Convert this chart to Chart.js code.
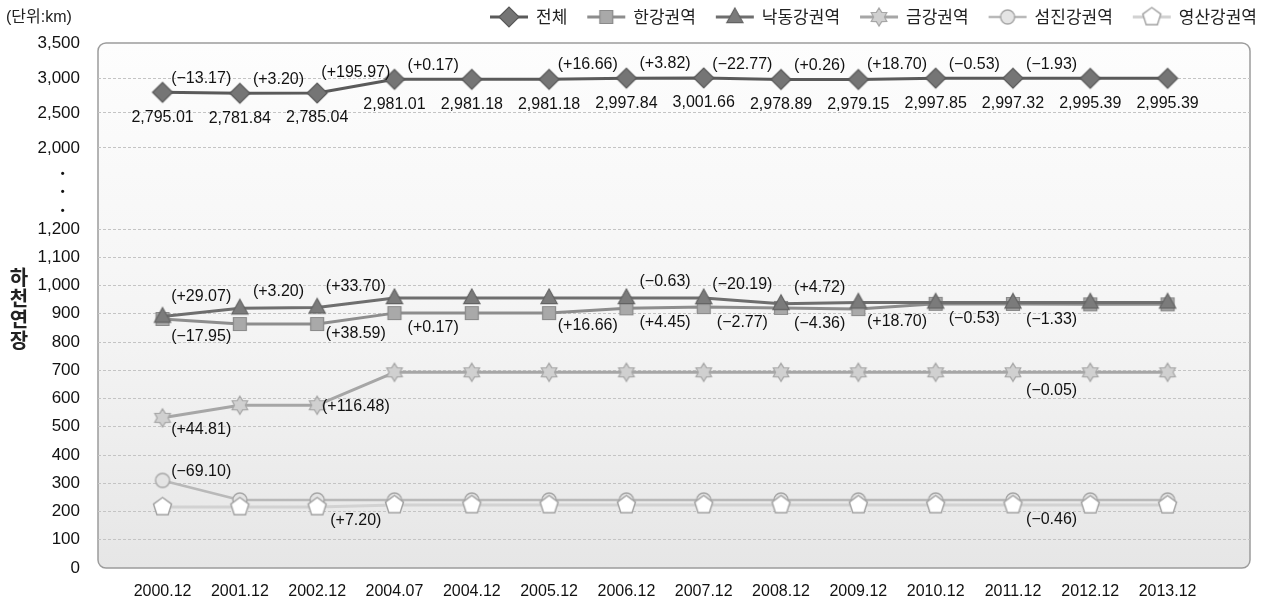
<!DOCTYPE html>
<html>
<head>
<meta charset="utf-8">
<script src="https://cdn.jsdelivr.net/npm/chart.js@4.4.1/dist/chart.umd.min.js"></script>
<style>
html,body{margin:0;padding:0;background:#fff}
#wrap{width:1262px;height:598px}
</style>
</head>
<body>
<div id="wrap"><canvas id="myChart" width="1262" height="598"></canvas></div>
<script>
var periods = ['2000.12','2001.12','2002.12','2004.07','2004.12','2005.12','2006.12','2007.12','2008.12','2009.12','2010.12','2011.12','2012.12','2013.12']

var total    = [2795.01,2781.84,2785.04,2981.01,2981.18,2981.18,2997.84,3001.66,2978.89,2979.15,2997.85,2997.32,2995.39,2995.39]
var hangang  = [881.6,863.65,863.65,902.24,902.41,902.41,919.07,923.52,920.75,916.39,935.09,934.56,933.23,933.23]
var nakdong  = [890.0,919.07,922.27,955.97,955.97,955.97,955.97,955.34,935.15,939.87,939.87,939.87,939.87,939.87]
var geumgang = [531.5,576.31,576.31,692.79,692.79,692.79,692.79,692.79,692.79,692.79,692.79,692.79,692.74,692.74]
var seomjin  = [310.0,240.9,240.9,240.9,240.9,240.9,240.9,240.9,240.9,240.9,240.9,240.9,240.9,240.9]
var yeongsan = [216.0,216.0,216.0,223.2,223.2,223.2,223.2,223.2,223.2,223.2,223.2,223.2,222.74,222.74]

// change labels, one per segment (from point i to i+1)
var totalChg    = ['(\u221213.17)','(+3.20)','(+195.97)','(+0.17)','','(+16.66)','(+3.82)','(\u221222.77)','(+0.26)','(+18.70)','(\u22120.53)','(\u22121.93)','']
var nakdongChg  = ['(+29.07)','(+3.20)','(+33.70)','','','','(\u22120.63)','(\u221220.19)','(+4.72)','','','','']
var hangangChg  = ['(\u221217.95)','','(+38.59)','(+0.17)','','(+16.66)','(+4.45)','(\u22122.77)','(\u22124.36)','(+18.70)','(\u22120.53)','(\u22121.33)','']
var geumgangChg = ['(+44.81)','','(+116.48)','','','','','','','','','(\u22120.05)','']
var seomjinChg  = ['(\u221269.10)','','','','','','','','','','','','']
var yeongsanChg = ['','','(+7.20)','','','','','','','','','(\u22120.46)','']

var yTickValues = [0,100,200,300,400,500,600,700,800,900,1000,1100,1200,null,null,null,2000,2500,3000,3500]
var yTickLabels = ['0','100','200','300','400','500','600','700','800','900','1,000','1,100','1,200','\u2022     ','\u2022     ','\u2022     ','2,000','2,500','3,000','3,500']

var seriesNames = ['전체','한강권역','낙동강권역','금강권역','섬진강권역','영산강권역']

// broken axis: 0..1200 in the lower part, 2000..3500 in the upper part
function brk(v){
    if (v <= 1200) return v*0.2825
    return 420 + (v-2000)*0.07
}
var yPos = []
var dotN = 0
yTickValues.forEach(function(v){
    if (v === null) { dotN++; yPos.push(brk(1200) + 18.5*dotN) }
    else yPos.push(brk(v))
})

function marker(shape, r, fill, stroke, lw){
    var s = Math.ceil(r*2+4), c = s/2
    var cv = document.createElement('canvas')
    cv.width = s; cv.height = s
    var g = cv.getContext('2d')
    g.beginPath()
    var i, a
    if (shape=='diamond'){
        g.moveTo(c-r,c); g.lineTo(c,c-r); g.lineTo(c+r,c); g.lineTo(c,c+r); g.closePath()
    } else if (shape=='square'){
        g.rect(c-r*0.72,c-r*0.72,r*1.44,r*1.44)
    } else if (shape=='triangle'){
        g.moveTo(c,c-r); g.lineTo(c+r*0.9,c+r*0.62); g.lineTo(c-r*0.9,c+r*0.62); g.closePath()
    } else if (shape=='star'){
        for (i=0;i<12;i++){
            a = -Math.PI/2 + i*Math.PI/6
            var rr = (i%2==0) ? r : r*0.6
            if (i==0) g.moveTo(c+Math.cos(a)*rr, c+Math.sin(a)*rr)
            else g.lineTo(c+Math.cos(a)*rr, c+Math.sin(a)*rr)
        }
        g.closePath()
    } else if (shape=='circle'){
        g.arc(c,c,r,0,Math.PI*2)
    } else if (shape=='pentagon'){
        for (i=0;i<5;i++){
            a = -Math.PI/2 + i*2*Math.PI/5
            if (i==0) g.moveTo(c+Math.cos(a)*r, c+Math.sin(a)*r)
            else g.lineTo(c+Math.cos(a)*r, c+Math.sin(a)*r)
        }
        g.closePath()
    }
    g.fillStyle = fill; g.fill()
    g.lineWidth = lw; g.strokeStyle = stroke; g.stroke()
    return cv
}

var mDiamond  = marker('diamond',10,'#757575','#585858',1.2)
var mSquare   = marker('square',9,'#a9a9a9','#8a8a8a',1.2)
var mTriangle = marker('triangle',9,'#7b7b7b','#626262',1.2)
var mStar     = marker('star',9,'#d0d0d0','#a6a6a6',1.2)
var mCircle   = marker('circle',7,'#e4e4e4','#a6a6a6',1.4)
var mPentagon = marker('pentagon',9.5,'#ffffff','#a0a0a0',1.4)

function series(label, values, img, color, width, order){
    return {
        label: label,
        data: values.map(function(v,i){ return {x:i, y:brk(v)} }),
        borderColor: color,
        borderWidth: width,
        pointStyle: img,
        pointRadius: 9,
        pointHoverRadius: 9,
        order: order,
        tension: 0,
        fill: false
    }
}

var datasets = [
    series(seriesNames[0], total, mDiamond, '#5a5a5a', 3, 0),
    series(seriesNames[1], hangang, mSquare, '#8d8d8d', 3, 2),
    series(seriesNames[2], nakdong, mTriangle, '#6e6e6e', 3, 1),
    series(seriesNames[3], geumgang, mStar, '#a6a6a6', 3, 3),
    series(seriesNames[4], seomjin, mCircle, '#b9b9b9', 2.5, 5),
    series(seriesNames[5], yeongsan, mPentagon, '#d2d2d2', 3, 4)
]

var regular = '"Liberation Sans", "Noto Sans CJK KR", sans-serif'

var boxPlugin = {
    id: 'box',
    beforeDraw: function(chart){
        var a = chart.chartArea, ctx = chart.ctx
        ctx.save()
        var grad = ctx.createLinearGradient(0,a.top,0,a.bottom)
        grad.addColorStop(0,'#fdfdfd')
        grad.addColorStop(0.55,'#f4f4f4')
        grad.addColorStop(1,'#e6e6e6')
        ctx.beginPath()
        ctx.roundRect(a.left,a.top,a.right-a.left,a.bottom-a.top,8)
        ctx.fillStyle = grad
        ctx.fill()
        ctx.lineWidth = 1.5
        ctx.strokeStyle = '#9c9c9c'
        ctx.stroke()
        ctx.restore()
    }
}

var labelPlugin = {
    id: 'labels',
    afterDatasetsDraw: function(chart){
        var ctx = chart.ctx
        ctx.save()
        ctx.font = '16px ' + regular
        ctx.fillStyle = '#111'
        ctx.textAlign = 'center'
        ctx.textBaseline = 'middle'
        var m0 = chart.getDatasetMeta(0)
        total.forEach(function(v,i){
            var p = m0.data[i]
            ctx.fillText(v.toLocaleString('en-US',{minimumFractionDigits:2, maximumFractionDigits:2}), p.x, p.y+25)
        })
        var sets = [
            {ds:0, txt:totalChg, dy:-14},
            {ds:2, txt:nakdongChg, dy:-16},
            {ds:1, txt:hangangChg, dy:15},
            {ds:3, txt:geumgangChg, dy:18},
            {ds:4, txt:seomjinChg, dy:-19},
            {ds:5, txt:yeongsanChg, dy:15}
        ]
        sets.forEach(function(s){
            var meta = chart.getDatasetMeta(s.ds)
            s.txt.forEach(function(t,i){
                if (!t) return
                var a = meta.data[i], b = meta.data[i+1]
                ctx.fillText(t, (a.x+b.x)/2, (a.y+b.y)/2 + s.dy)
            })
        })
        ctx.restore()
    }
}

var decorPlugin = {
    id: 'decor',
    afterDraw: function(chart){
        var ctx = chart.ctx
        ctx.save()
        ctx.fillStyle = '#222'
        ctx.textBaseline = 'middle'
        ctx.font = '16px ' + regular
        ctx.textAlign = 'left'
        ctx.fillText('(단위:km)', 6, 18)

        // vertical axis title, one upright character per line
        ctx.font = 'bold 20px "Noto Sans CJK KR", sans-serif'
        ctx.textAlign = 'center'
        var yt = '하천연장'
        for (var i=0;i<yt.length;i++) ctx.fillText(yt[i], 19, 277 + i*21)

        // legend: line with marker, then name
        ctx.font = '17px "Noto Sans CJK KR", sans-serif'
        var y = 17, x = 490
        chart.data.datasets.forEach(function(d){
            ctx.beginPath()
            ctx.moveTo(x,y); ctx.lineTo(x+38,y)
            ctx.strokeStyle = d.borderColor
            ctx.lineWidth = d.borderWidth
            ctx.stroke()
            var im = d.pointStyle
            ctx.drawImage(im, x+19-im.width/2, y-im.height/2)
            ctx.fillStyle = '#222'
            ctx.textAlign = 'left'
            ctx.fillText(d.label, x+46, y)
            x += 46 + ctx.measureText(d.label).width + 20
        })
        ctx.restore()
    }
}

var chart = new Chart(document.getElementById('myChart').getContext('2d'), {
    type: 'line',
    data: { datasets: datasets },
    options: {
        responsive: false,
        animation: false,
        layout: { padding: { top: 43, right: 4, left: 0, bottom: 0 } },
        plugins: { legend: { display: false }, tooltip: { enabled: false } },
        elements: { line: { borderCapStyle: 'round', borderJoinStyle: 'round' } },
        scales: {
            x: {
                type: 'linear',
                min: -0.835,
                max: 14.066,
                grid: { display: false },
                border: { display: false },
                afterBuildTicks: function(s){ s.ticks = periods.map(function(p,i){ return {value:i} }) },
                afterFit: function(s){ s.height = 30 },
                ticks: {
                    autoSkip: false,
                    maxRotation: 0,
                    padding: 6,
                    color: '#111',
                    font: { family: regular, size: 16 },
                    callback: function(v){ return periods[v] }
                }
            },
            y: {
                min: 0,
                max: 525,
                afterBuildTicks: function(s){ s.ticks = yPos.map(function(v){ return {value:v} }) },
                afterFit: function(s){ s.width = 98 },
                grid: {
                    drawTicks: false,
                    lineWidth: 1,
                    color: function(c){
                        var i = c.index
                        if (yTickValues[i] === null || i === 0 || i === yTickValues.length-1) return 'rgba(0,0,0,0)'
                        return '#c4c4c4'
                    }
                },
                border: { display: false, dash: [3,2] },
                ticks: {
                    autoSkip: false,
                    padding: 18,
                    color: '#111',
                    font: function(c){
                        if (c.index !== undefined && yTickValues[c.index] === null) return { family: regular, size: 11, weight: 'bold' }
                        return { family: regular, size: 17 }
                    },
                    callback: function(v, i){ return yTickLabels[i] }
                }
            }
        }
    },
    plugins: [boxPlugin, labelPlugin, decorPlugin]
})
</script>
</body>
</html>
